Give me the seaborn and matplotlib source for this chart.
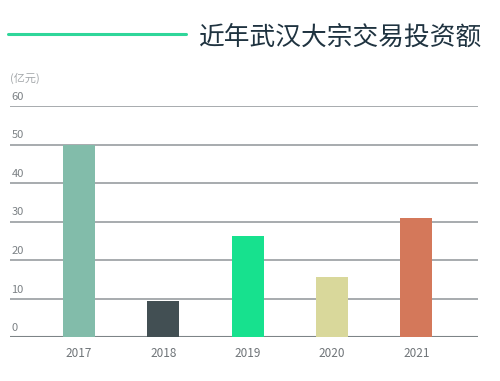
import matplotlib
matplotlib.use("Agg")
import matplotlib.pyplot as plt
import seaborn as sns
import pandas as pd
from matplotlib.lines import Line2D

years = ["2017", "2018", "2019", "2020", "2021"]
values = [50.0, 9.5, 26.3, 15.7, 31.0]
colors = ["#82bcaa", "#424f53", "#17e18e", "#d9d89b", "#d4785a"]
yticks = [0, 10, 20, 30, 40, 50, 60]
title = "近年武汉大宗交易投资额"
unit = "(亿元)"

sns.set_theme(style="white")
plt.rcParams["font.family"] = ["Noto Sans CJK SC", "DejaVu Sans"]

df = pd.DataFrame({"year": years, "value": values})

fig = plt.figure(figsize=(5.0, 3.81), dpi=100)
ax = fig.add_axes([0.02, 0.1147, 0.936, 0.607])

sns.barplot(data=df, x="year", y="value", hue="year", palette=colors,
            legend=False, width=0.38, ax=ax, zorder=3, saturation=1,
            linewidth=0, edgecolor="none")

ax.set_ylim(0, 60)
ax.set_xlim(-0.817, 4.73)
ax.set_yticks(yticks)
ax.yaxis.grid(True, color="#a0a5a8", linewidth=1.3, zorder=0)
ax.set_axisbelow(True)
for s in ax.spines.values():
    s.set_visible(False)
ax.axhline(0, color="#7d8487", linewidth=1.5, zorder=2)
ax.set_xlabel("")
ax.set_ylabel("")
ax.set_yticklabels([])
ax.tick_params(axis="y", length=0)
ax.tick_params(axis="x", length=0, pad=7, labelsize=8.5, labelcolor="#6f7478")

for t in yticks:
    ax.annotate(str(t), xy=(0, t), xycoords=("axes fraction", "data"),
                xytext=(1, 3), textcoords="offset points",
                ha="left", va="bottom", fontsize=8, color="#7c8185")

fig.text(0.02, 0.795, unit, fontsize=8, color="#a4a8ab", ha="left", va="center")

fig.add_artist(Line2D([0.016, 0.372], [0.912, 0.912], color="#2fd69a",
                      linewidth=2.2, transform=fig.transFigure))
fig.text(0.398, 0.9, title, fontsize=18.5, color="#1f3340",
         ha="left", va="center")

fig.savefig("out.png", dpi=100)
